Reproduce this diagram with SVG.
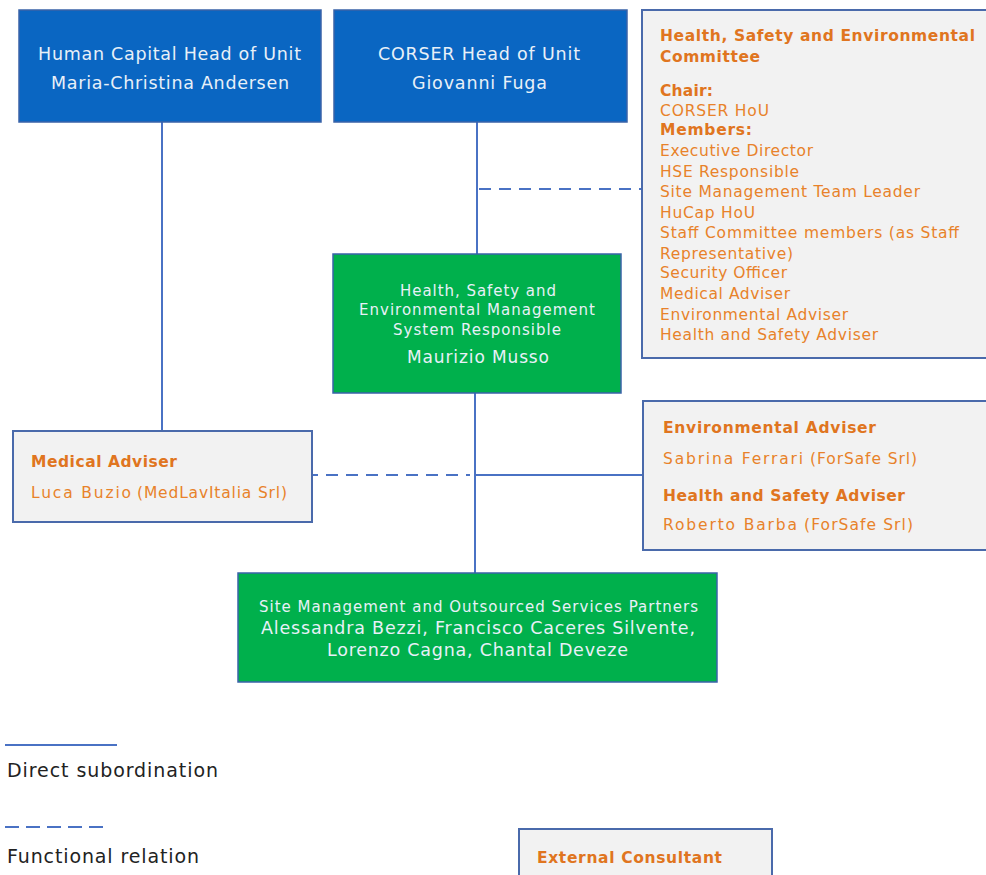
<svg xmlns="http://www.w3.org/2000/svg" width="986" height="875" viewBox="0 0 986 875">
<style>
text{font-family:"DejaVu Sans","Verdana",sans-serif}
.blue{fill:#0a66c2;stroke:#3a63a8;stroke-width:1.5}
.green{fill:#00b04c;stroke:#3a63a8;stroke-width:1.5}
.grey{fill:#f2f2f2;stroke:#4a6aab;stroke-width:2}
.wt{fill:#e8f0f8}
.or{fill:#e8822a;font-size:15.5px}
.orb{fill:#e07520;font-weight:bold;font-size:15.5px}
.solid{stroke:#4a72c4;stroke-width:2;fill:none}
.dash{stroke:#4a72c4;stroke-width:2;fill:none;stroke-dasharray:12,8}
.leg{fill:#222;font-size:19px}
</style>
<g id="connectors">
<line class="solid" x1="162" y1="122" x2="162" y2="431"/>
<line class="solid" x1="477" y1="122" x2="477" y2="254"/>
<line class="dash" x1="479" y1="189" x2="642" y2="189"/>
<line class="solid" x1="475" y1="393" x2="475" y2="573"/>
<line class="solid" x1="312" y1="475" x2="318" y2="475"/>
<line class="dash" x1="326" y1="475" x2="470" y2="475"/>
<line class="solid" x1="475" y1="475" x2="643" y2="475"/>
</g>
<g id="hucap">
<rect class="blue" x="19" y="10" width="302" height="112"/>
<text class="wt" x="38" y="60" font-size="17.5" textLength="263" lengthAdjust="spacing">Human Capital Head of Unit</text>
<text class="wt" x="51" y="89" font-size="17.5" textLength="238" lengthAdjust="spacing">Maria-Christina Andersen</text>
</g>
<g id="corser">
<rect class="blue" x="334" y="10" width="293" height="112"/>
<text class="wt" x="378" y="60" font-size="17.5" textLength="202" lengthAdjust="spacing">CORSER Head of Unit</text>
<text class="wt" x="412" y="89" font-size="17.5" textLength="135" lengthAdjust="spacing">Giovanni Fuga</text>
</g>
<g id="committee">
<rect class="grey" x="642" y="10" width="350" height="348"/>
<text class="orb" x="660" y="41" textLength="315" lengthAdjust="spacing">Health, Safety and Environmental</text>
<text class="orb" x="660" y="62" textLength="100" lengthAdjust="spacing">Committee</text>
<text class="orb" x="660" y="96" textLength="53" lengthAdjust="spacing">Chair:</text>
<text class="or" x="660" y="116" textLength="109" lengthAdjust="spacing">CORSER HoU</text>
<text class="orb" x="660" y="135" textLength="92" lengthAdjust="spacing">Members:</text>
<text class="or" x="660" y="156" textLength="153" lengthAdjust="spacing">Executive Director</text>
<text class="or" x="660" y="177" textLength="139" lengthAdjust="spacing">HSE Responsible</text>
<text class="or" x="660" y="197" textLength="260" lengthAdjust="spacing">Site Management Team Leader</text>
<text class="or" x="660" y="218" textLength="95" lengthAdjust="spacing">HuCap HoU</text>
<text class="or" x="660" y="238" textLength="299" lengthAdjust="spacing">Staff Committee members (as Staff</text>
<text class="or" x="660" y="259" textLength="133" lengthAdjust="spacing">Representative)</text>
<text class="or" x="660" y="278" textLength="127" lengthAdjust="spacing">Security Officer</text>
<text class="or" x="660" y="299" textLength="130" lengthAdjust="spacing">Medical Adviser</text>
<text class="or" x="660" y="320" textLength="188" lengthAdjust="spacing">Environmental Adviser</text>
<text class="or" x="660" y="340" textLength="218" lengthAdjust="spacing">Health and Safety Adviser</text>
</g>
<g id="hse">
<rect class="green" x="333" y="254" width="288" height="139"/>
<text class="wt" x="400" y="296" font-size="15" textLength="156" lengthAdjust="spacing">Health, Safety and</text>
<text class="wt" x="359" y="315" font-size="15" textLength="236" lengthAdjust="spacing">Environmental Management</text>
<text class="wt" x="393" y="335" font-size="15" textLength="168" lengthAdjust="spacing">System Responsible</text>
<text class="wt" x="407" y="363" font-size="17" textLength="142" lengthAdjust="spacing">Maurizio Musso</text>
</g>
<g id="medical">
<rect class="grey" x="13" y="431" width="299" height="91"/>
<text class="orb" x="31" y="467" textLength="146" lengthAdjust="spacing">Medical Adviser</text>
<text class="or" x="31" y="498" font-size="18" textLength="100" lengthAdjust="spacing">Luca Buzio</text>
<text class="or" x="137" y="498" font-size="14.5" textLength="150" lengthAdjust="spacing">(MedLavItalia Srl)</text>
</g>
<g id="advisers">
<rect class="grey" x="643" y="401" width="350" height="149"/>
<text class="orb" x="663" y="433" textLength="213" lengthAdjust="spacing">Environmental Adviser</text>
<text class="or" x="663" y="464" font-size="18" textLength="140" lengthAdjust="spacing">Sabrina Ferrari</text>
<text class="or" x="810" y="464" font-size="14.5" textLength="107" lengthAdjust="spacing">(ForSafe Srl)</text>
<text class="orb" x="663" y="501" textLength="242" lengthAdjust="spacing">Health and Safety Adviser</text>
<text class="or" x="663" y="530" font-size="18" textLength="134" lengthAdjust="spacing">Roberto Barba</text>
<text class="or" x="804" y="530" font-size="14.5" textLength="109" lengthAdjust="spacing">(ForSafe Srl)</text>
</g>
<g id="site">
<rect class="green" x="238" y="573" width="479" height="109"/>
<text class="wt" x="259" y="612" font-size="15" textLength="439" lengthAdjust="spacing">Site Management and Outsourced Services Partners</text>
<text class="wt" x="261" y="634" font-size="17.5" textLength="434" lengthAdjust="spacing">Alessandra Bezzi, Francisco Caceres Silvente,</text>
<text class="wt" x="327" y="656" font-size="17.5" textLength="301" lengthAdjust="spacing">Lorenzo Cagna, Chantal Deveze</text>
</g>
<g id="legend">
<line class="solid" x1="5" y1="745" x2="117" y2="745"/>
<text class="leg" x="7" y="777" textLength="211" lengthAdjust="spacing">Direct subordination</text>
<line class="dash" x1="5" y1="827" x2="105" y2="827" style="stroke-dasharray:14,7"/>
<text class="leg" x="7" y="863" textLength="192" lengthAdjust="spacing">Functional relation</text>
</g>
<g id="external">
<rect class="grey" x="519" y="829" width="253" height="60"/>
<text class="orb" x="537" y="863" textLength="185" lengthAdjust="spacing">External Consultant</text>
</g>
</svg>
